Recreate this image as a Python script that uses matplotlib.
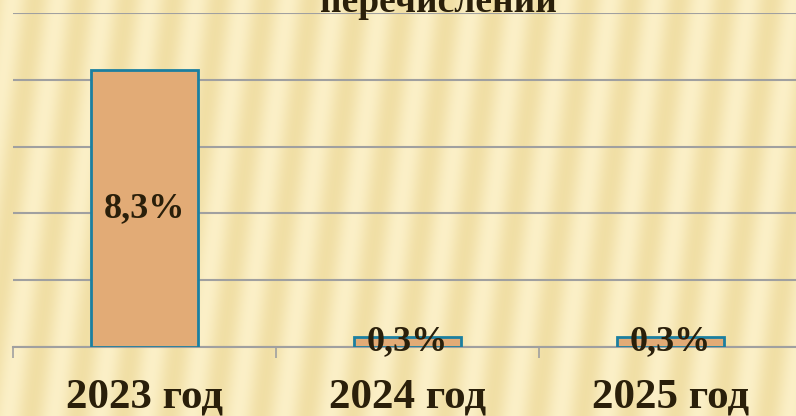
import numpy as np
import matplotlib
matplotlib.use("Agg")
import matplotlib.pyplot as plt

# chart data
years = ["2023 год", "2024 год", "2025 год"]
shares = [8.3, 0.3, 0.3]
value_labels = ["8,3%", "0,3%", "0,3%"]
title = "перечислений"

plt.rcParams["font.family"] = ["Liberation Serif", "DejaVu Serif"]
text_color = "#2a1f0a"

fig = plt.figure(figsize=(7.96, 4.16), dpi=100)
fig.patch.set_facecolor("#f4e4ae")

# striped background (slide texture), soft and wide
bg = fig.add_axes([0, 0, 1, 1], zorder=-10)
yy, xx = np.mgrid[0:416, 0:796]
stripes = 0.5 + 0.5 * np.sin(2 * np.pi * (xx + 0.12 * yy) / 46.0)
light = np.array([0.985, 0.94, 0.78])
dark = np.array([0.945, 0.875, 0.65])
img = dark[None, None, :] + (light - dark)[None, None, :] * stripes[..., None]
bg.imshow(img, aspect="auto", interpolation="bilinear")
bg.axis("off")

# main axes: extends slightly past the right edge as in the slide
ax = fig.add_axes([13 / 796, 69 / 416, 789 / 796, 334 / 416])
ax.set_facecolor("none")

x = np.arange(len(years))
bars = ax.bar(x, shares, width=0.41, color="#e2ab76", edgecolor="#1b7fa0",
              linewidth=2, zorder=3)

for rect, lab in zip(bars, value_labels):
    ax.text(rect.get_x() + rect.get_width() / 2, rect.get_height() / 2, lab,
            ha="center", va="center", fontsize=26, fontweight="bold",
            color=text_color, zorder=4)

ax.set_xlim(-0.5, len(years) - 0.5)
ax.set_ylim(0, 10)
ax.set_yticks(np.arange(0, 11, 2))
ax.yaxis.grid(True, color="#a0a0a0", linewidth=1.5, zorder=0)
ax.tick_params(axis="y", length=0, labelleft=False)

ax.set_xticks(x)
ax.set_xticklabels(years, fontsize=31, fontweight="bold", color=text_color)
ax.set_xticks(np.arange(-0.5, len(years)), minor=True)
ax.tick_params(axis="x", which="major", length=0, pad=23)
ax.tick_params(axis="x", which="minor", length=8, width=1.2, color="#a0a0a0")

for side in ["top", "right", "left"]:
    ax.spines[side].set_visible(False)
ax.spines["bottom"].set_color("#a0a0a0")
ax.spines["bottom"].set_linewidth(1.5)

# title is cut by the top edge in the slide capture
fig.text(438 / 796, 1 - 12 / 416, title, ha="center", va="baseline",
         fontsize=27, fontweight="bold", color=text_color)

fig.savefig("out.png", dpi=100)
